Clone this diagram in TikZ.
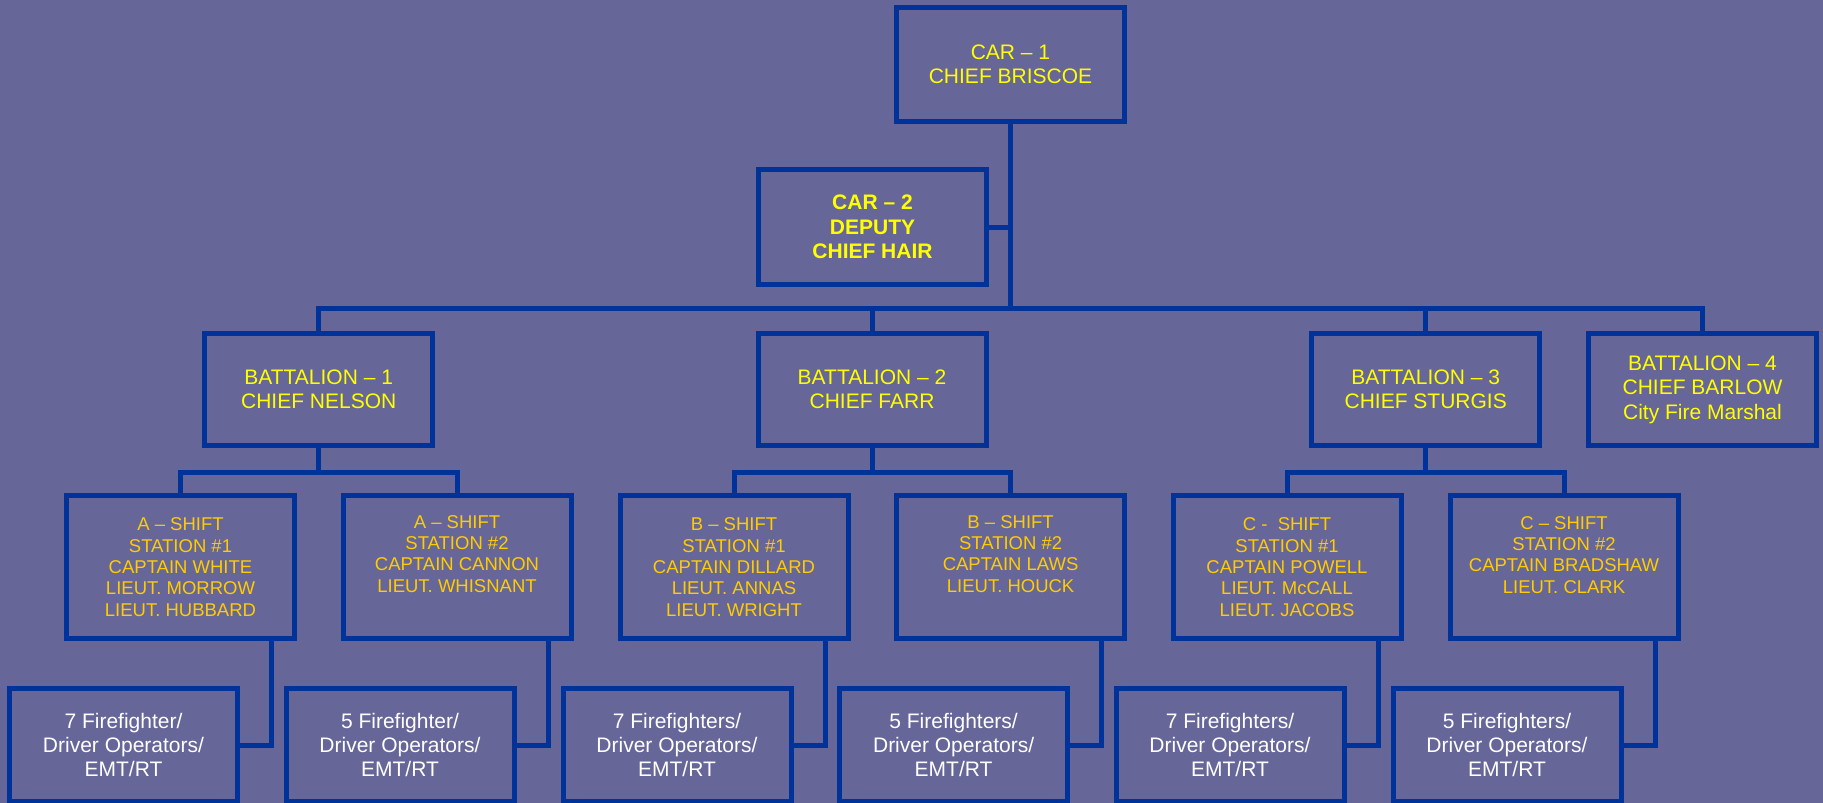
\documentclass[tikz,border=0pt]{standalone}
\usepackage{fontspec}
\setmainfont{Liberation Sans}
\usetikzlibrary{calc}
\definecolor{bgc}{RGB}{102,102,153}
\definecolor{linec}{RGB}{0,51,153}
\definecolor{yel}{RGB}{255,255,0}
\definecolor{org}{RGB}{255,204,0}
\tikzset{
  box/.style={draw=linec, line width=5pt, minimum width=228pt, inner sep=0pt},
  topbox/.style={box, minimum height=114pt, text=yel, align=center, font=\fontsize{21}{24.5}\selectfont},
  batbox/.style={box, minimum height=112.5pt, text=yel, align=center, font=\fontsize{21}{24.5}\selectfont},
  shiftbox/.style={box, minimum height=143.5pt},
  shifttext/.style={text=org, align=center, inner sep=0pt, anchor=north, font=\fontsize{18.5}{21.4}\selectfont},
  ffbox/.style={box, minimum height=113pt, text=white, align=center, font=\fontsize{21}{23.7}\selectfont},
  conn/.style={draw=linec, line width=5pt},
}
\begin{document}
\begin{tikzpicture}[x=1pt,y=-1pt]
\fill[bgc] (0,0) rectangle (1823,803);
\useasboundingbox (0,0) rectangle (1823,803);

% top
\node[topbox] (car1) at (1010.5,64.5) {CAR – 1\\CHIEF BRISCOE};
\node[topbox, minimum height=115pt, font=\bfseries\fontsize{21}{24.3}\selectfont] (car2) at (872.5,227) {CAR – 2\\DEPUTY\\CHIEF HAIR};

% battalions
\node[batbox] (b1) at (318.7,389.4) {BATTALION – 1\\CHIEF NELSON};
\node[batbox] (b2) at (872,389.4) {BATTALION – 2\\CHIEF FARR};
\node[batbox] (b3) at (1425.7,389.4) {BATTALION – 3\\CHIEF STURGIS};
\node[batbox] (b4) at (1702.5,389.4) {BATTALION – 4\\CHIEF BARLOW\\City Fire Marshal};

% shifts
\node[shiftbox] (a1) at (180.5,567.2) {};
\node[shiftbox] (a2) at (457,567.2) {};
\node[shiftbox] (s3) at (734,567.2) {};
\node[shiftbox] (s4) at (1010.6,567.2) {};
\node[shiftbox] (s5) at (1287,567.2) {};
\node[shiftbox] (s6) at (1564,567.2) {};

\node[shifttext] (a1t) at (a1.center |- 0,517.5) {A – SHIFT\\STATION \#1\\CAPTAIN WHITE\\LIEUT. MORROW\\LIEUT. HUBBARD};
\node[shifttext] (a2t) at (a2.center |- 0,515) {A – SHIFT\\STATION \#2\\CAPTAIN CANNON\\LIEUT. WHISNANT};
\node[shifttext] (s3t) at (s3.center |- 0,517.5) {B – SHIFT\\STATION \#1\\CAPTAIN DILLARD\\LIEUT. ANNAS\\LIEUT. WRIGHT};
\node[shifttext] (s4t) at (s4.center |- 0,515) {B – SHIFT\\STATION \#2\\CAPTAIN LAWS\\LIEUT. HOUCK};
\node[shifttext] (s5t) at (s5.center |- 0,517.5) {C -~~SHIFT\\STATION \#1\\CAPTAIN POWELL\\LIEUT. McCALL\\LIEUT. JACOBS};
\node[shifttext] (s6t) at (s6.center |- 0,516) {C – SHIFT\\STATION \#2\\CAPTAIN BRADSHAW\\LIEUT. CLARK};

% firefighters
\node[ffbox] (f1) at (123.5,745) {7 Firefighter/\\Driver Operators/\\EMT/RT};
\node[ffbox] (f2) at (400,745) {5 Firefighter/\\Driver Operators/\\EMT/RT};
\node[ffbox] (f3) at (677,745) {7 Firefighters/\\Driver Operators/\\EMT/RT};
\node[ffbox] (f4) at (953.6,745) {5 Firefighters/\\Driver Operators/\\EMT/RT};
\node[ffbox] (f5) at (1230,745) {7 Firefighters/\\Driver Operators/\\EMT/RT};
\node[ffbox] (f6) at (1507,745) {5 Firefighters/\\Driver Operators/\\EMT/RT};

% connectors top
\coordinate (bus) at (car1.south |- 0,308);
\draw[conn] (car1.south) -- (bus);
\draw[conn] (car2.east) -- (car2.east -| car1.south);
\draw[conn] (b1.north) |- (bus) -| (b4.north);
\draw[conn] (b2.north) -- (b2.north |- bus);
\draw[conn] (b3.north) -- (b3.north |- bus);

% battalion to shifts
\foreach \b/\l/\r in {b1/a1/a2, b2/s3/s4, b3/s5/s6} {
  \draw[conn] (\b.south) -- ($(\b.south)+(0,24.5)$);
  \draw[conn] (\l.north) |- ($(\b.south)+(0,24.5)$) -| (\r.north);
}

% shifts to firefighters
\foreach \s/\f in {a1/f1, a2/f2, s3/f3, s4/f4, s5/f5, s6/f6} {
  \draw[conn] ($(\s.south)+(91,0)$) |- (\f.east);
}
\end{tikzpicture}
\end{document}
